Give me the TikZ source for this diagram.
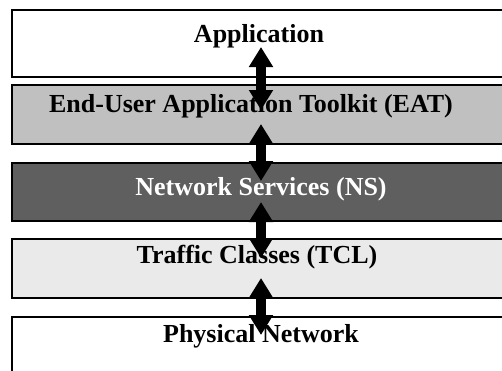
\documentclass[tikz,border=0pt]{standalone}
\usepackage{fontspec}
\setmainfont{Liberation Serif}
\usetikzlibrary{arrows.meta}
\definecolor{eatgrey}{HTML}{C0C0C0}
\definecolor{nsgrey}{HTML}{5F5F5F}
\definecolor{tclgrey}{HTML}{EAEAEA}
\begin{document}
\begin{tikzpicture}[x=1pt,y=-1pt,
  layer/.style={draw=black, line width=1.5pt, rectangle, anchor=north west,
    minimum width=530pt, inner sep=0pt},
  lbl/.style={anchor=base, inner sep=0pt, font=\fontsize{26}{30}\selectfont\bfseries},
  link/.style={line width=9.5pt,
    {Triangle[width=23pt,length=20pt]}-{Triangle[width=23pt,length=20pt]}}]
\useasboundingbox (0,0) rectangle (502,370);

% protocol layers
\node[layer, fill=white,   minimum height=67pt] (app)  at (11,9)   {};
\node[layer, fill=eatgrey, minimum height=59pt] (eat)  at (11,84)  {};
\node[layer, fill=nsgrey,  minimum height=58pt] (ns)   at (11,162) {};
\node[layer, fill=tclgrey, minimum height=59pt] (tcl)  at (11,238) {};
\node[layer, fill=white,   minimum height=80pt] (phy)  at (11,316) {};

% layer names
\node[lbl] (tapp) at (259,42)  {Application};
\node[lbl] (teat) at (251,112) {End-User Application Toolkit (EAT)};
\node[lbl, text=white] (tns) at (261,195) {Network Services (NS)};
\node[lbl] (ttcl) at (257,263) {Traffic Classes (TCL)};
\node[lbl] (tphy) at (261,342) {Physical Network};

% interfaces between adjacent layers
\coordinate (a1) at (261,47);  \coordinate (b1) at (261,110);
\coordinate (a2) at (261,124); \coordinate (b2) at (261,181);
\coordinate (a3) at (261,202); \coordinate (b3) at (261,258);
\coordinate (a4) at (261,278); \coordinate (b4) at (261,335);
\draw[link] (a1) -- (b1);
\draw[link] (a2) -- (b2);
\draw[link] (a3) -- (b3);
\draw[link] (a4) -- (b4);
\end{tikzpicture}
\end{document}
